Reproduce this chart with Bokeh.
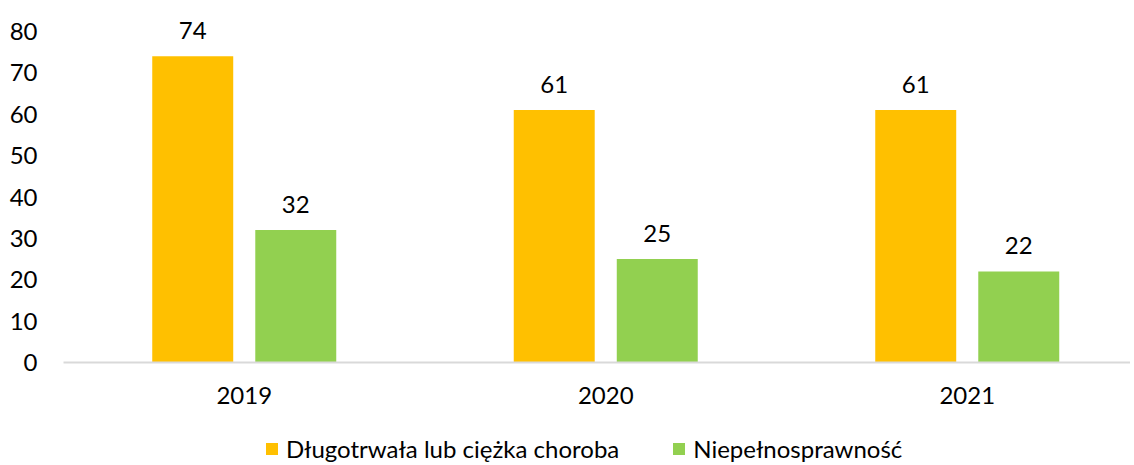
from bokeh.plotting import figure
from bokeh.layouts import column
from bokeh.models import (ColumnDataSource, Range1d, FixedTicker, Legend, LegendItem,
                          LabelSet, Plot, VBar)
from bokeh.core.properties import value
from bokeh.embed import file_html
from bokeh.resources import INLINE

years = ["2019", "2020", "2021"]
series_names = ["Długotrwała lub ciężka choroba", "Niepełnosprawność"]
choroba = [74, 61, 61]
niepelno = [32, 25, 22]
colors = ["#FFC000", "#92D050"]

FONT = "Lato"
FS = "24px"
centers = [0.5 + i for i in range(len(years))]

p = figure(width=1130, height=418, output_backend="svg", toolbar_location=None,
           x_range=Range1d(0, 2.9516), y_range=Range1d(0, 84.11),
           min_border_left=63, min_border_right=0, min_border_top=14, min_border_bottom=56)
p.outline_line_color = None
p.xgrid.grid_line_color = None
p.ygrid.grid_line_color = None

offset = 0.1425
bw = 0.224
for vals, off, col in [(choroba, -offset, colors[0]), (niepelno, offset, colors[1])]:
    src = ColumnDataSource(dict(x=[c + off for c in centers], top=vals,
                                lab=[str(v) for v in vals]))
    p.vbar(x="x", top="top", width=bw, bottom=0, source=src,
           fill_color=col, line_color=None)
    p.add_layout(LabelSet(x="x", y="top", text="lab", source=src,
                          text_align="center", text_baseline="middle",
                          y_offset=26, text_font=value(FONT), text_font_size=FS,
                          text_color="#000000"))

p.yaxis.ticker = FixedTicker(ticks=list(range(0, 81, 10)))
p.yaxis.axis_line_color = None
p.yaxis.major_tick_line_color = None
p.yaxis.minor_tick_line_color = None
p.yaxis.major_tick_out = 0
p.yaxis.major_tick_in = 0
p.yaxis.major_label_standoff = 26
p.yaxis.major_label_text_font = FONT
p.yaxis.major_label_text_font_size = FS
p.yaxis.major_label_text_color = "#000000"

p.xaxis.ticker = FixedTicker(ticks=centers)
p.xaxis.major_label_overrides = {c: y for c, y in zip(centers, years)}
p.xaxis.axis_line_color = "#D9D9D9"
p.xaxis.axis_line_width = 2
p.xaxis.major_tick_line_color = None
p.xaxis.minor_tick_line_color = None
p.xaxis.major_tick_out = 0
p.xaxis.major_tick_in = 0
p.xaxis.major_label_standoff = 24
p.xaxis.major_label_text_font = FONT
p.xaxis.major_label_text_font_size = FS
p.xaxis.major_label_text_color = "#000000"

# legend strip (bare Plot: no axes, no grids); zero-height bars only feed the legend
pl = Plot(width=1130, height=45, output_backend="svg", toolbar_location=None,
          x_range=Range1d(0, 1), y_range=Range1d(0, 1),
          min_border_left=63, min_border_right=0, min_border_top=0, min_border_bottom=0,
          outline_line_color=None)
lr = []
for col in colors:
    src = ColumnDataSource(dict(x=[0.5], top=[0]))
    lr.append(pl.add_glyph(src, VBar(x="x", top="top", bottom=0, width=0.01,
                                     fill_color=col, line_color=None)))
legend = Legend(items=[LegendItem(label=series_names[0], renderers=[lr[0]]),
                       LegendItem(label=series_names[1], renderers=[lr[1]])],
                orientation="horizontal", location=(201, 0),
                label_text_font=FONT, label_text_font_size=FS,
                label_text_color="#000000", glyph_width=15, glyph_height=15,
                spacing=52, label_standoff=7, border_line_color=None,
                background_fill_alpha=0, padding=0, margin=0)
pl.add_layout(legend, "center")

open("out.html", "w").write(file_html(column(p, pl, spacing=0), INLINE))
